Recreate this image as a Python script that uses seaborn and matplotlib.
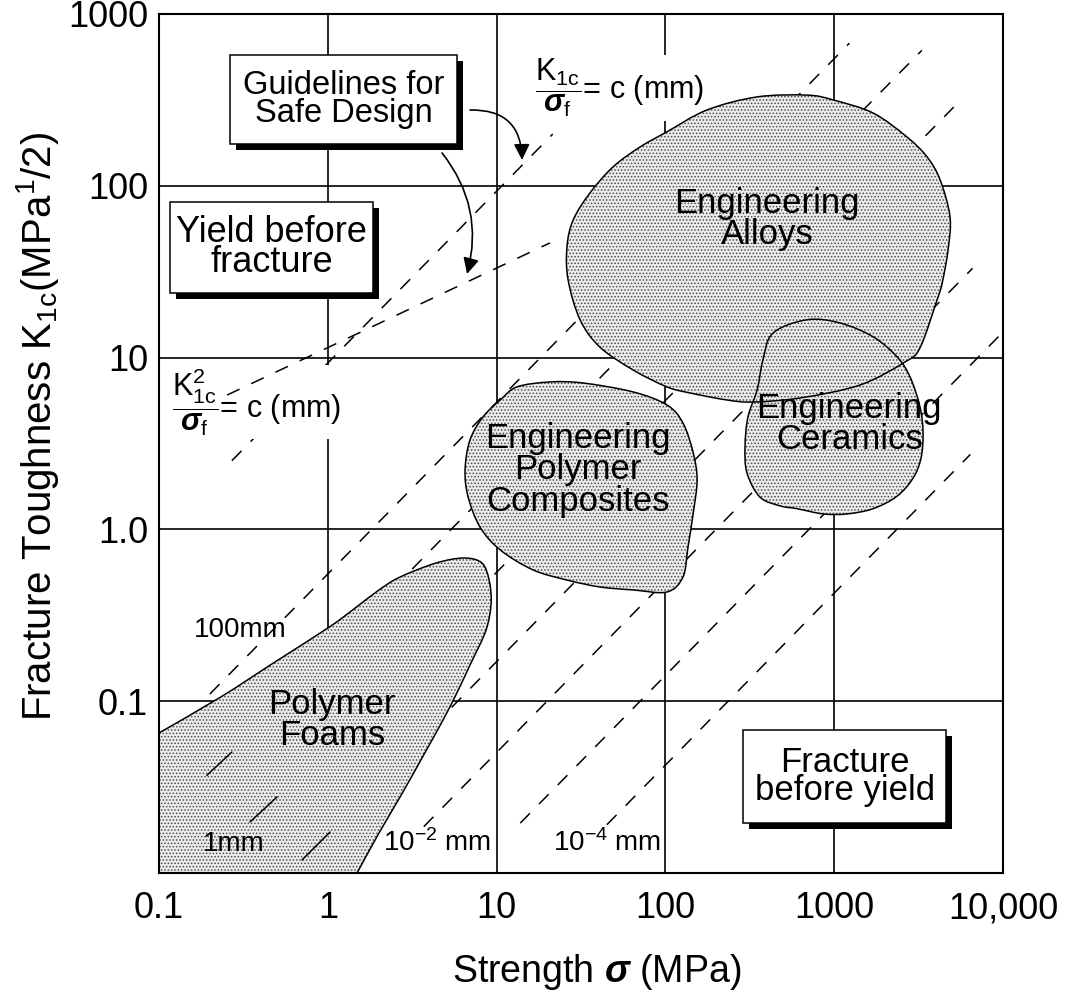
import numpy as np
import pandas as pd
import matplotlib
matplotlib.use("Agg")
import matplotlib.pyplot as plt
from matplotlib.path import Path
from matplotlib.patches import PathPatch, Rectangle
import seaborn as sns

# ---------------- axis ticks ----------------
sigma_ticks = [0.1, 1, 10, 100, 1000, 10000]
sigma_tick_labels = ["0.1", "1", "10", "100", "1000", "10,000"]
k_ticks = [0.01, 0.1, 1, 10, 100, 1000]
k_tick_labels = ["", "0.1", "1.0", "10", "100", "1000"]

# ---------------- design guidelines (end points: strength MPa, toughness MPa m^1/2) ----------------
guide_names = ["K/sigma", "100mm", "10mm", "1mm", "0.1mm", "1e-2mm", "1e-3mm", "1e-4mm", "K2/sigma"]
guide_sigma_start = [0.27, 0.20, 0.19, 0.35, 0.70, 3.7, 13.8, 45.0, 0.253]
guide_sigma_end = [21.5, 1230, 3300, 5100, 2000, 6600, 10000, 6400, 20.7]
guide_k_start = [2.51, 0.11, 0.0353, 0.0197, 0.0119, 0.0186, 0.0195, 0.0191, 6.05]
guide_k_end = [200, 676, 614, 287, 34.0, 33.1, 14.1, 2.73, 46.5]

# short guideline dashes that show over the foam field
foam_dash_sigma_start = [0.192, 0.346, 0.703]
foam_dash_sigma_end = [0.270, 0.50, 1.03]
foam_dash_k_start = [0.037, 0.0198, 0.0119]
foam_dash_k_end = [0.0506, 0.0277, 0.0173]

# ---------------- material property fields (outline vertices) ----------------
alloys_sigma = [102, 176, 349, 690, 984, 1700, 2700, 3550, 4240, 4850, 4720, 4360, 4060, 3220, 2620,
                1420, 627, 330, 232, 140, 102, 64.3, 40.9, 31.2, 26.5, 26.1, 28.4, 35.7, 49.0, 70.6]
alloys_k = [206, 276, 329, 337, 316, 265, 192, 147, 108, 65.8, 42.3, 27.2, 21.6, 11.4, 9.42,
            6.92, 5.82, 5.51, 5.66, 6.22, 6.75, 8.47, 11.5, 16.6, 28.3, 44.1, 63.2, 90.8, 129, 168]

ceramics_sigma = [434, 690, 1081, 1700, 2355, 2812, 3221, 3357, 3266, 2931, 2355, 1700, 1191, 859,
                  601, 478, 363, 304, 296, 308, 349, 378]
ceramics_k = [13.9, 16.6, 15.9, 13.2, 10.1, 7.71, 5.15, 3.64, 2.60, 1.99, 1.56, 1.32, 1.23, 1.23,
              1.32, 1.37, 1.54, 2.13, 3.02, 4.51, 6.47, 9.68]

composites_sigma = [10.5, 13.2, 20.7, 32.5, 64.3, 102, 127, 146, 154, 146, 136, 127, 102, 64.3,
                    40.9, 26.1, 16.4, 10.5, 7.98, 6.78, 6.50, 6.95, 8.30]
composites_k = [5.66, 6.75, 7.21, 7.11, 6.31, 5.30, 4.16, 2.79, 1.94, 1.24, 0.789, 0.528, 0.432,
                0.444, 0.462, 0.507, 0.581, 0.759, 1.03, 1.54, 2.22, 3.31, 4.51]

foams_sigma = [0.1, 0.233, 0.486, 1.02, 1.45, 2.01, 2.68, 4.38, 6.41, 8.18, 9.02, 9.27, 8.65, 7.05,
               5.82, 4.81, 3.56, 2.68, 2.01, 1.49]
foams_k = [0.0653, 0.106, 0.169, 0.270, 0.348, 0.444, 0.528, 0.637, 0.681, 0.637, 0.507, 0.372,
           0.259, 0.167, 0.112, 0.0776, 0.0455, 0.0277, 0.0171, 0.0100]

# ---------------- style ----------------
sns.set_theme(style="white")
plt.rcParams["font.family"] = ["Liberation Sans", "DejaVu Sans"]
plt.rcParams["mathtext.fontset"] = "custom"
plt.rcParams["mathtext.rm"] = "Liberation Sans"
plt.rcParams["mathtext.it"] = "Liberation Sans:italic"
plt.rcParams["mathtext.bf"] = "Liberation Sans:bold:italic"
plt.rcParams["mathtext.sf"] = "Liberation Sans"
plt.rcParams["hatch.linewidth"] = 0.7
plt.rcParams["text.color"] = "black"

FILL_FC = "#ebebeb"
DOT_EC = "#4a4a4a"

fig = plt.figure(figsize=(10.87, 9.98), dpi=100)
ax = fig.add_axes([0.1463, 0.1253, 0.7765, 0.8607])
ax.set_xscale("log")
ax.set_yscale("log")

# guidelines drawn through seaborn
rows = []
for name, s0, s1, k0, k1 in zip(guide_names, guide_sigma_start, guide_sigma_end,
                                 guide_k_start, guide_k_end):
    rows.append((name, s0, k0))
    rows.append((name, s1, k1))
guides = pd.DataFrame(rows, columns=["guide", "sigma", "K"])
sns.lineplot(data=guides, x="sigma", y="K", units="guide", estimator=None, sort=False,
             color="black", linewidth=1.1, legend=False, ax=ax, zorder=1)
for ln in ax.lines:
    ln.set_linestyle((0, (9, 8.5)))
    # the K^2/sigma guideline runs over the white label background
    if np.isclose(ln.get_xdata()[0], guide_sigma_start[-1]):
        ln.set_zorder(1.8)


def smooth_outline(xs, ys, closed=True):
    """Cubic Bezier path through the outline vertices (built in log space)."""
    P = np.column_stack([np.log10(xs), np.log10(ys)])
    n = len(P)
    if closed:
        tang = (np.roll(P, -1, axis=0) - np.roll(P, 1, axis=0)) / 6.0
        segs = range(n)
    else:
        ext = np.vstack([P[0], P, P[-1]])
        tang = (ext[2:] - ext[:-2]) / 6.0
        segs = range(n - 1)
    verts = [P[0]]
    codes = [Path.MOVETO]
    for i in segs:
        j = (i + 1) % n
        verts += [P[i] + tang[i], P[j] - tang[j], P[j]]
        codes += [Path.CURVE4] * 3
    verts = 10 ** np.array(verts)
    return verts, codes


def add_field(xs, ys):
    verts, codes = smooth_outline(xs, ys, closed=True)
    verts = np.vstack([verts, verts[:1]])
    codes = codes + [Path.CLOSEPOLY]
    path = Path(verts, codes)
    ax.add_patch(PathPatch(path, facecolor=FILL_FC, edgecolor=DOT_EC, linewidth=0,
                           hatch=".....", zorder=2))
    ax.add_patch(PathPatch(path, facecolor="none", edgecolor="black", linewidth=1.1, zorder=2.2))


# polymer foams: bounded by the axes on the left and bottom
fv, fc = smooth_outline(foams_sigma, foams_k, closed=False)
fill_verts = np.vstack([fv, [[foams_sigma[0], foams_k[-1]]], [fv[0]]])
fill_codes = fc + [Path.LINETO, Path.CLOSEPOLY]
ax.add_patch(PathPatch(Path(fill_verts, fill_codes), facecolor=FILL_FC, edgecolor=DOT_EC,
                       linewidth=0, hatch=".....", zorder=2))
ax.add_patch(PathPatch(Path(fv, fc), facecolor="none", edgecolor="black", linewidth=1.1, zorder=2.2))

add_field(composites_sigma, composites_k)
add_field(alloys_sigma, alloys_k)
add_field(ceramics_sigma, ceramics_k)

for s0, s1, k0, k1 in zip(foam_dash_sigma_start, foam_dash_sigma_end, foam_dash_k_start, foam_dash_k_end):
    ax.plot([s0, s1], [k0, k1], color="black", linewidth=1.1, zorder=2.5)

# axes, grid, ticks
ax.set_xlim(sigma_ticks[0], sigma_ticks[-1])
ax.set_ylim(k_ticks[0], k_ticks[-1])
ax.set_xticks(sigma_ticks)
ax.set_xticklabels(sigma_tick_labels)
ax.set_yticks(k_ticks)
ax.set_yticklabels(k_tick_labels)
ax.minorticks_off()
ax.tick_params(axis="both", length=0, labelsize=26, colors="black")
ax.tick_params(axis="x", pad=13)
ax.tick_params(axis="y", pad=8)
ax.grid(True, which="major", color="black", linewidth=1.2)
ax.set_axisbelow(True)
for sp in ax.spines.values():
    sp.set_color("black")
    sp.set_linewidth(1.5)

ax.set_xlabel(r"Strength $\mathbf{\sigma}$ (MPa)", fontsize=27, color="black")
ax.set_ylabel(r"Fracture Toughness K$_{\mathrm{1c}}$(MPa$^{\mathrm{1}}$/2)", fontsize=29, color="black")
ax.xaxis.set_label_coords(0.519, -0.092)
ax.yaxis.set_label_coords(-0.116, 0.52)

# field labels
field_fs = 25
ax.text(400, 64, "Engineering\nAlloys", ha="center", va="center", fontsize=field_fs,
        linespacing=0.955, zorder=3)
ax.text(1225, 4.1, "Engineering\nCeramics", ha="center", va="center", fontsize=field_fs,
        linespacing=0.9, zorder=3)
ax.text(30.3, 2.22, "Engineering\nPolymer\nComposites", ha="center", va="center",
        fontsize=field_fs, linespacing=0.955, zorder=3)
ax.text(1.06, 0.0777, "Polymer\nFoams", ha="center", va="center", fontsize=field_fs,
        linespacing=0.9, zorder=3)

# guideline labels
lab_fs = 20
ax.text(0.302, 0.26, "100mm", ha="center", va="center", fontsize=lab_fs, zorder=3)
ax.text(0.278, 0.01475, "1mm", ha="center", va="center", fontsize=lab_fs, zorder=3)
ax.text(4.43, 0.0149, r"10$^{\mathrm{-2}}$ mm", ha="center", va="center", fontsize=lab_fs, zorder=3)
ax.text(45.1, 0.0149, r"10$^{\mathrm{-4}}$ mm", ha="center", va="center", fontsize=lab_fs, zorder=3)

white = dict(facecolor="white", edgecolor="none", pad=1.0)
ax.text(53.8, 371, r"$\dfrac{\mathrm{K}_{\mathrm{1c}}}{\mathbf{\sigma}_{\mathrm{f}}}$= c (mm)",
        ha="center", va="center", fontsize=22, bbox=white, zorder=1.5)
ax.text(0.376, 5.5, r"$\dfrac{\mathrm{K}_{\mathrm{1c}}^{\mathrm{2}}}{\mathbf{\sigma}_{\mathrm{f}}}$= c (mm)",
        ha="center", va="center", fontsize=22, bbox=white, zorder=1.5)


def shadow_box(x0, y0, x1, y1, text, fs, spacing):
    dx, dy = 6 / 844, 6 / 859
    ax.add_patch(Rectangle((x0 + dx, y0 - dy), x1 - x0, y1 - y0, transform=ax.transAxes,
                           facecolor="black", edgecolor="none", zorder=4))
    ax.add_patch(Rectangle((x0, y0), x1 - x0, y1 - y0, transform=ax.transAxes,
                           facecolor="white", edgecolor="black", linewidth=1.1, zorder=4.1))
    ax.text((x0 + x1) / 2, (y0 + y1) / 2, text, transform=ax.transAxes, ha="center",
            va="center", fontsize=fs, linespacing=spacing, zorder=4.2)


shadow_box(0.0841, 0.8487, 0.3531, 0.9523, "Guidelines for\nSafe Design", 23.5, 0.85)
shadow_box(0.0130, 0.6752, 0.2536, 0.7811, "Yield before\nfracture", 26, 0.85)
shadow_box(0.6919, 0.0582, 0.9325, 0.1665, "Fracture\nbefore yield", 25, 0.83)

arrow = dict(arrowstyle="-|>", color="black", lw=1.2, mutation_scale=24, shrinkA=0, shrinkB=0)
ax.annotate("", xy=(0.4301, 0.8300), xytext=(0.3685, 0.8882), xycoords="axes fraction",
            arrowprops=dict(arrow, connectionstyle="arc3,rad=-0.5"), zorder=5)
ax.annotate("", xy=(0.3649, 0.6973), xytext=(0.3353, 0.8382), xycoords="axes fraction",
            arrowprops=dict(arrow, connectionstyle="arc3,rad=-0.25"), zorder=5)

fig.savefig("out.png", dpi=100, facecolor="white")
